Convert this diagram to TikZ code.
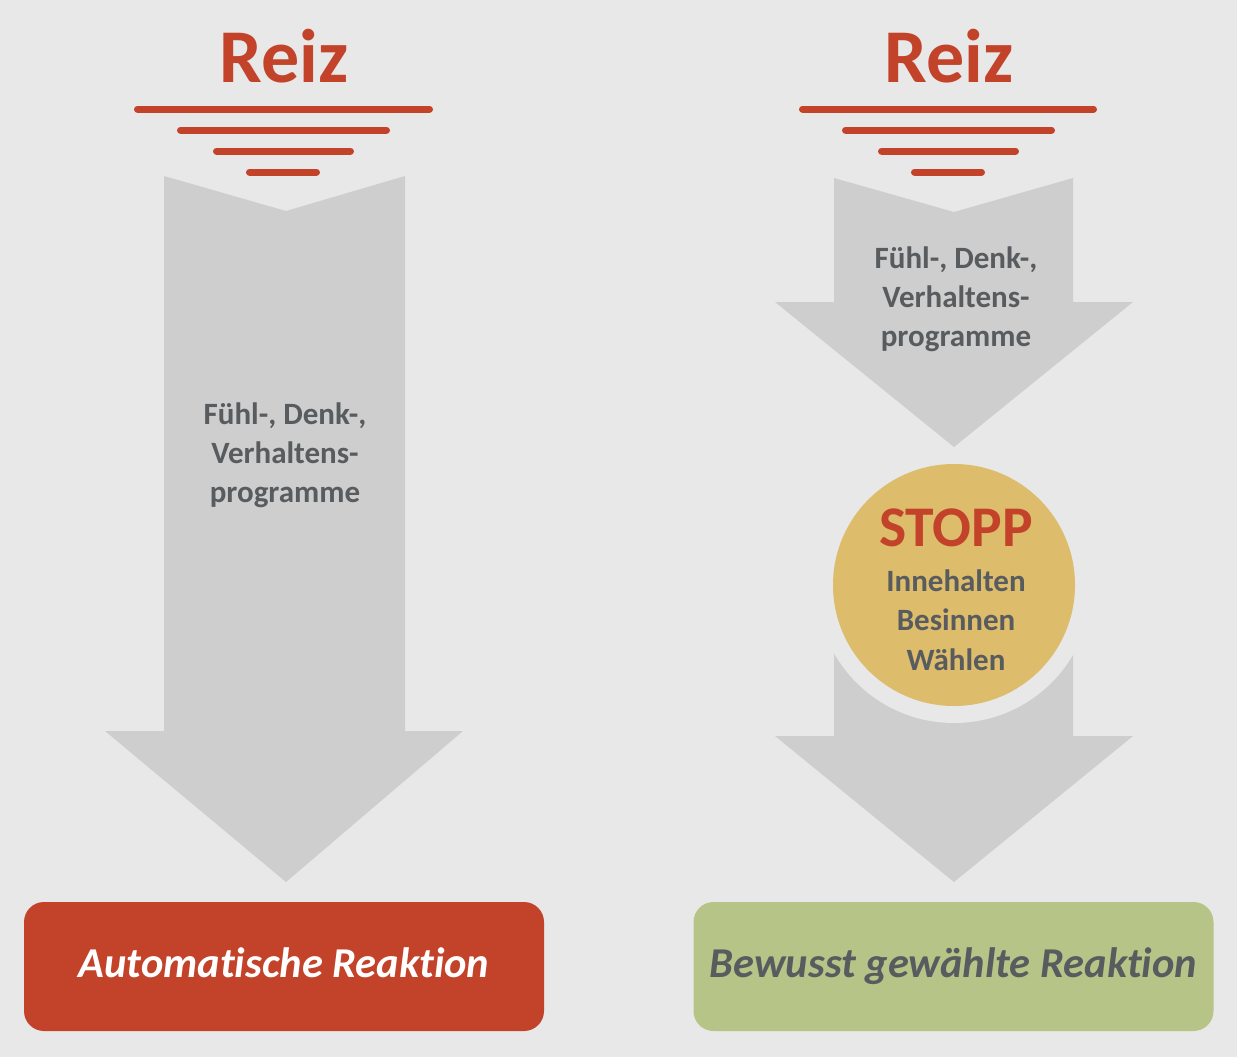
\documentclass[tikz,border=0pt]{standalone}
\usepackage{fontspec}
\setmainfont{Carlito}[RawFeature={-liga;-clig;-calt;-dlig}]
\definecolor{bg}{HTML}{E7E8E7}
\definecolor{arrowgray}{HTML}{CDCECD}
\definecolor{reizred}{HTML}{C3432A}
\definecolor{txtgray}{HTML}{595C5F}
\definecolor{stoppgold}{HTML}{DDBC6B}
\definecolor{boxgreen}{HTML}{B7C487}
\tikzset{
  reizline/.style={draw=reizred, line width=7pt, line cap=round},
  bigarrow/.style={fill=arrowgray, draw=none},
  reiztext/.style={text=reizred, font=\fontsize{76}{80}\selectfont\bfseries, inner sep=0pt},
  progtext/.style={text=txtgray, font=\fontsize{31}{39}\selectfont\bfseries, align=center, inner sep=0pt},
  reactbox/.style={rounded corners=20pt, minimum width=520pt, minimum height=129pt, inner sep=0pt},
  reacttext/.style={font=\fontsize{42.5}{46}\selectfont\bfseries\itshape, inner sep=0pt, anchor=base},
}
\begin{document}
\begin{tikzpicture}[x=1pt,y=-1pt]
\fill[bg] (0,0) rectangle (1237,1057);
\useasboundingbox (0,0) rectangle (1237,1057);

% ---------- left column ----------
\node[reiztext, anchor=base] (reizL) at (284,82) {Reiz};
\coordinate (l1a) at (137.5,109); \coordinate (l1b) at (429.5,109);
\coordinate (l2a) at (180.5,130); \coordinate (l2b) at (386.5,130);
\coordinate (l3a) at (216.5,151); \coordinate (l3b) at (350.5,151);
\coordinate (l4a) at (249.5,172); \coordinate (l4b) at (316.5,172);
\draw[reizline] (l1a) -- (l1b);
\draw[reizline] (l2a) -- (l2b);
\draw[reizline] (l3a) -- (l3b);
\draw[reizline] (l4a) -- (l4b);
\fill[bigarrow] (164,176) -- (286,211) -- (405,176) -- (405,731) -- (463,731)
  -- (286,882) -- (105,731) -- (164,731) -- cycle;
\node[progtext] (progL) at (285,455) {Fühl-, Denk-,\\Verhaltens-\\programme};
\node[reactbox, fill=reizred] (autoR) at (284,966.5) {};
\node[reacttext, text=white] (autoT) at (284,977) {Automatische Reaktion};

% ---------- right column ----------
\node[reiztext, anchor=base] (reizR) at (949,82) {Reiz};
\coordinate (r1a) at (802.5,109); \coordinate (r1b) at (1093.5,109);
\coordinate (r2a) at (845.5,130); \coordinate (r2b) at (1051.5,130);
\coordinate (r3a) at (881.5,151); \coordinate (r3b) at (1015.5,151);
\coordinate (r4a) at (914.5,172); \coordinate (r4b) at (981.5,172);
\draw[reizline] (r1a) -- (r1b);
\draw[reizline] (r2a) -- (r2b);
\draw[reizline] (r3a) -- (r3b);
\draw[reizline] (r4a) -- (r4b);
\fill[bigarrow] (834,178) -- (954,212) -- (1073,178) -- (1073,302) -- (1133,302)
  -- (954,447) -- (775,302) -- (834,302) -- cycle;
\node[progtext] (progR) at (956,299) {Fühl-, Denk-,\\Verhaltens-\\programme};
\fill[bigarrow] (834,600) -- (1073,600) -- (1073,736) -- (1133,736)
  -- (954,882) -- (775,736) -- (834,736) -- cycle;
\fill[bg] (954,585) circle[radius=138];
\node[circle, fill=stoppgold, minimum size=242pt, inner sep=0pt] (stopp) at (954,585) {};
\node[text=reizred, font=\fontsize{57.5}{60}\selectfont\bfseries, anchor=base, inner sep=0pt] (stopptxt) at (956,546) {STOPP};
\node[progtext, font=\fontsize{31}{39.5}\selectfont\bfseries] (steps) at (956,620) {Innehalten\\Besinnen\\Wählen};
\node[reactbox, fill=boxgreen] (bewR) at (953.5,966.5) {};
\node[reacttext, text=txtgray] (bewT) at (953.5,977) {Bewusst gewählte Reaktion};
\end{tikzpicture}
\end{document}
